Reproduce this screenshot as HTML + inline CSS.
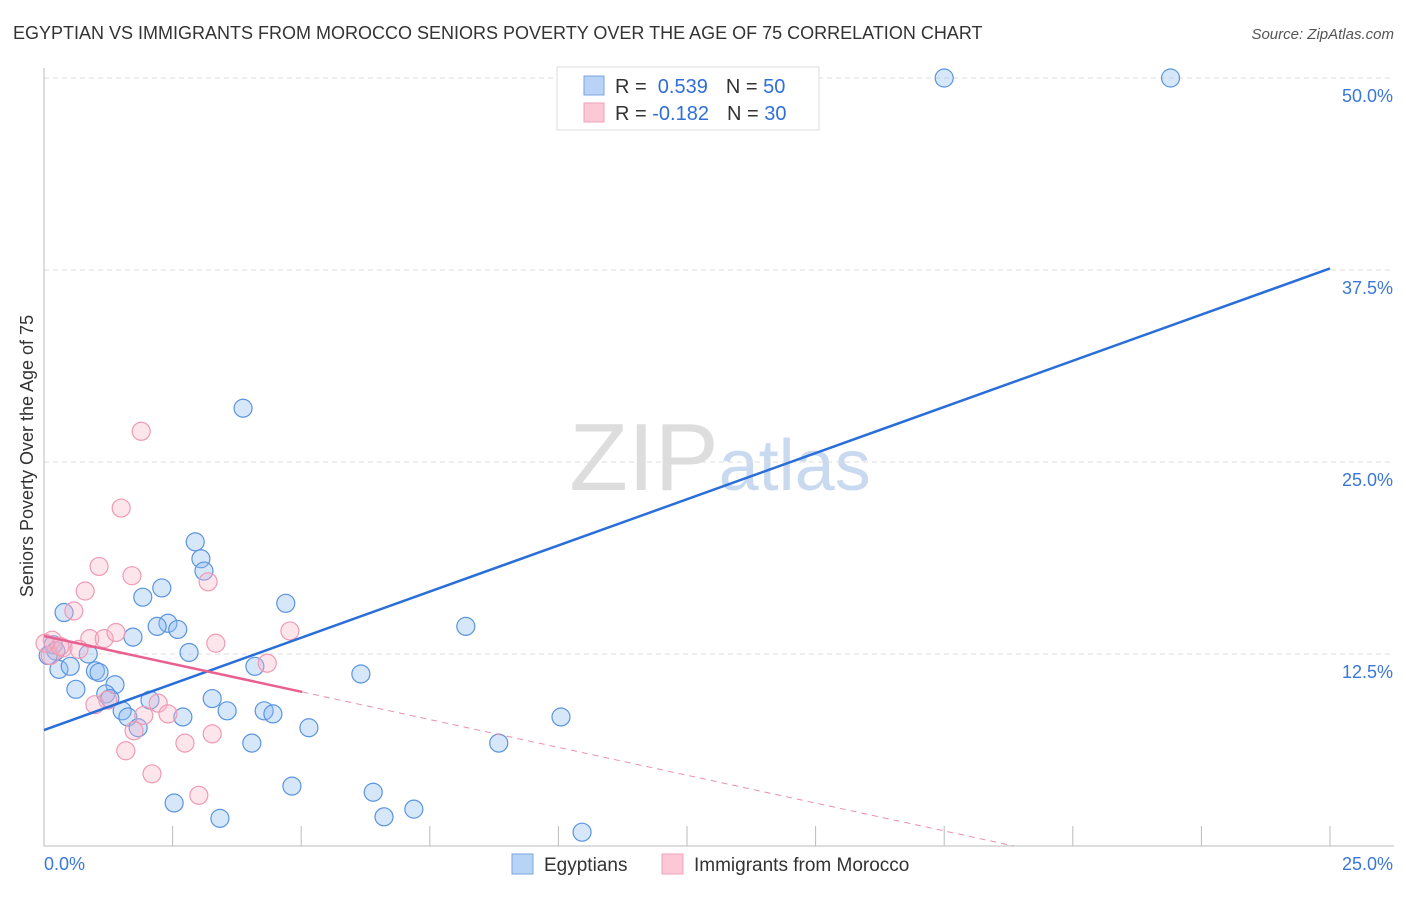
<!DOCTYPE html>
<html><head><meta charset="utf-8"><style>
body{margin:0;background:#fff;font-family:"Liberation Sans",sans-serif;}
svg text{font-family:"Liberation Sans",sans-serif;}
</style></head><body>
<svg id="chart" width="1406" height="892" viewBox="0 0 1406 892" xmlns="http://www.w3.org/2000/svg">
<text x="13" y="39" font-size="18" fill="#333">EGYPTIAN VS IMMIGRANTS FROM MOROCCO SENIORS POVERTY OVER THE AGE OF 75 CORRELATION CHART</text>
<text x="1394" y="39" font-size="15" fill="#555" text-anchor="end" font-style="italic">Source: ZipAtlas.com</text>
<text x="720" y="490" font-size="96" text-anchor="middle" fill="#ddd" font-family="Liberation Serif">ZIP<tspan fill="#c9daf0" font-family="Liberation Sans" font-size="72">atlas</tspan></text>
<g id="grid"></g><g id="axes"></g><g id="marks"></g>
<text transform="translate(33,456) rotate(-90)" font-size="18" fill="#333" text-anchor="middle">Seniors Poverty Over the Age of 75</text>
<g>
<rect x="557" y="67" width="262" height="63" fill="#fff" stroke="#ddd"/>
<rect x="584" y="76" width="20" height="19" fill="#b8d3f5" stroke="#7aa6e0"/>
<rect x="584" y="103" width="20" height="19" fill="#fcc8d6" stroke="#f0a0b8"/>
<text x="615" y="93" font-size="20" fill="#333">R = <tspan fill="#2f6fd6">&#160;0.539</tspan><tspan dx="18" fill="#333">N = </tspan><tspan fill="#2f6fd6">50</tspan></text>
<text x="615" y="120" font-size="20" fill="#333">R = <tspan fill="#2f6fd6">-0.182</tspan><tspan dx="18" fill="#333">N = </tspan><tspan fill="#2f6fd6">30</tspan></text>
</g>
<g>
<rect x="512" y="854" width="21" height="20" fill="#b8d3f5" stroke="#7aa6e0"/>
<text x="544" y="871" font-size="19" fill="#333">Egyptians</text>
<rect x="662" y="854" width="21" height="20" fill="#fcc8d6" stroke="#f0a0b8"/>
<text x="694" y="871" font-size="19" fill="#333">Immigrants from Morocco</text>
</g>
</svg>
<script>
const xTicks=[0,2.5,5,7.5,10,12.5,15,17.5,20,22.5,25];
const yTicks=[12.5,25,37.5,50];
const yTickLabels=["12.5%","25.0%","37.5%","50.0%"];
const blueX=[17.5,21.9,3.87,2.94,3.05,3.11,2.29,1.92,4.7,0.39,2.41,2.2,2.6,8.2,1.73,0.18,0.23,0.08,0.86,2.82,4.1,0.29,0.51,1.0,1.07,6.16,0.62,1.38,1.2,1.28,2.06,3.27,1.52,3.56,4.28,4.45,1.63,2.7,10.05,1.83,5.15,4.04,8.84,4.82,6.4,2.53,7.19,3.42,6.61,10.46];
const blueY=[50,50,28.5,19.8,18.7,17.9,16.8,16.2,15.8,15.2,14.5,14.3,14.1,14.3,13.6,13.1,12.7,12.4,12.5,12.6,11.7,11.5,11.7,11.4,11.3,11.2,10.2,10.5,9.9,9.6,9.5,9.6,8.8,8.8,8.8,8.6,8.4,8.4,8.4,7.7,7.7,6.7,6.7,3.9,3.5,2.8,2.4,1.8,1.9,0.9];
const pinkX=[1.89,1.5,1.07,1.71,3.19,0.8,0.58,0.16,0.89,1.17,1.4,3.34,4.78,0.37,0.68,4.34,0.12,1.24,2.22,0.99,1.94,2.41,1.75,2.74,3.27,1.59,2.1,3.01,0.31,0.02];
const pinkY=[27,22,18.2,17.6,17.2,16.6,15.3,13.4,13.5,13.5,13.9,13.2,14.0,12.9,12.8,11.9,12.4,9.5,9.3,9.2,8.5,8.6,7.5,6.7,7.3,6.2,4.7,3.3,13.0,13.2];
const blueFit=[7.55,37.6];
const pinkFit=[13.67,-0.725];
const X=v=>44+v/25*1286, Y=v=>846-v*15.36;
const NS="http://www.w3.org/2000/svg";
function mk(t,a,p){const e=document.createElementNS(NS,t);for(const k in a)e.setAttribute(k,a[k]);p.appendChild(e);return e;}
const grid=document.getElementById('grid'),axes=document.getElementById('axes'),marks=document.getElementById('marks');
yTicks.forEach((v,i)=>{const l=mk('line',{x1:44,x2:1394,y1:Y(v),y2:Y(v),stroke:'#ddd','stroke-dasharray':'5,4'},grid);

const t=mk('text',{x:1393,y:Y(v)+24,'font-size':18,fill:'#3a78d8','text-anchor':'end'},axes);t.textContent=yTickLabels[i];
});
const ax=mk('line',{x1:44,x2:44,y1:68,y2:846,stroke:'#bbb'},axes);
const bx=mk('line',{x1:44,x2:1394,y1:846,y2:846,stroke:'#bbb'},axes);
xTicks.forEach(v=>{const t=mk('line',{x1:X(v),x2:X(v),y1:826,y2:846,stroke:'#bbb'},axes);});
let t0=mk('text',{x:44,y:870,'font-size':18,fill:'#3a78d8'},axes);t0.textContent='0.0%';
let t1=mk('text',{x:1393,y:870,'font-size':18,fill:'#3a78d8','text-anchor':'end'},axes);t1.textContent='25.0%';
blueX.forEach((x,i)=>{const c=mk('circle',{cx:X(x),cy:Y(blueY[i]),r:9,fill:'rgba(140,185,240,0.35)',stroke:'#5a94e0','stroke-width':1.2},marks);
});
pinkX.forEach((x,i)=>{const c=mk('circle',{cx:X(x),cy:Y(pinkY[i]),r:9,fill:'rgba(250,180,200,0.35)',stroke:'#f09ab4','stroke-width':1.2},marks);
});
const bl=mk('line',{x1:X(0),y1:Y(blueFit[0]),x2:X(25),y2:Y(blueFit[1]),stroke:'#2a6fd8','stroke-width':2.5},marks);

const pe=5.02,pend=(0-pinkFit[0])/pinkFit[1];
const pl=mk('line',{x1:X(0),y1:Y(pinkFit[0]),x2:X(pe),y2:Y(pinkFit[0]+pinkFit[1]*pe),stroke:'#e86090','stroke-width':2.5},marks);

const pd=mk('line',{x1:X(pe),y1:Y(pinkFit[0]+pinkFit[1]*pe),x2:X(Math.min(pend,25)),y2:Y(pinkFit[0]+pinkFit[1]*Math.min(pend,25)),stroke:'#e890b0','stroke-width':1,'stroke-dasharray':'6,5'},marks);

</script>
</body></html>
